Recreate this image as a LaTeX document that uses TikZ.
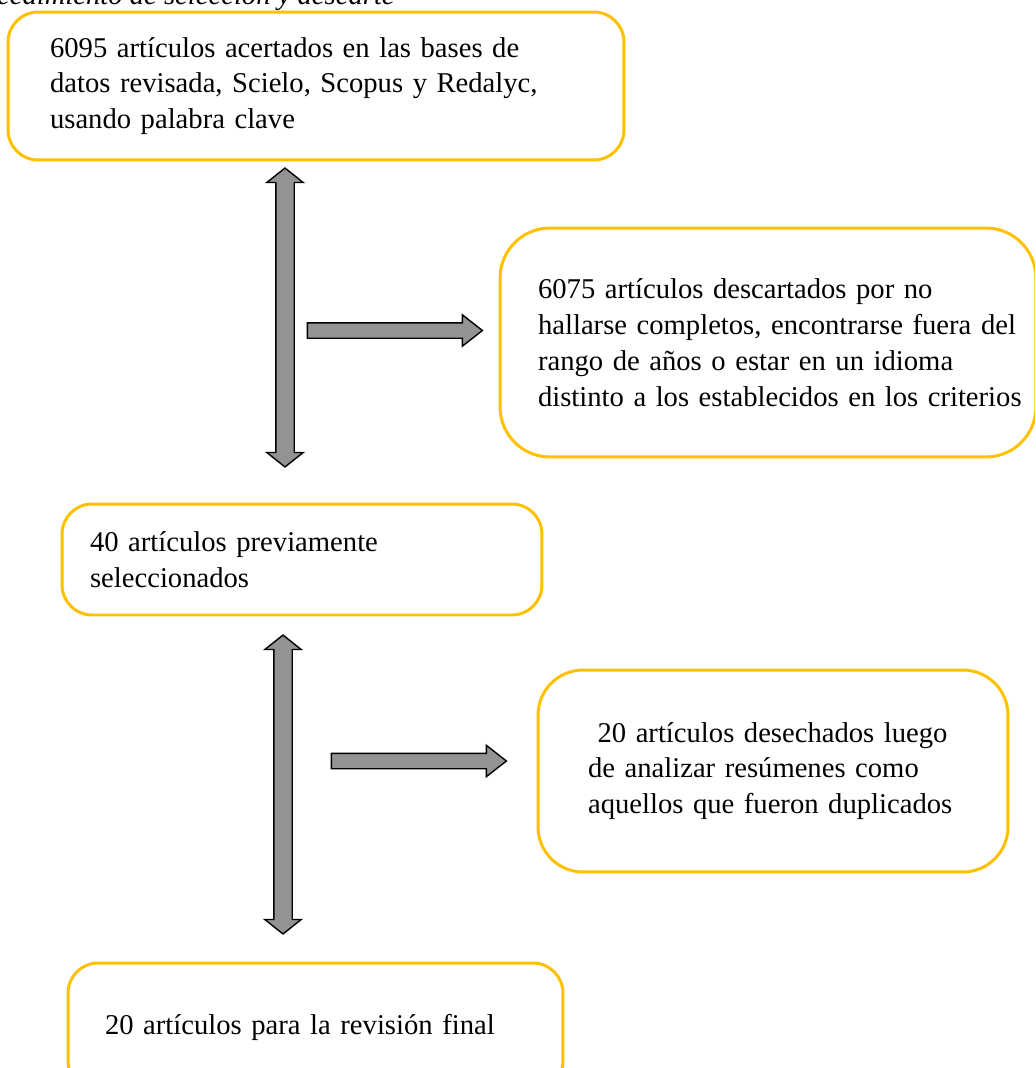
\documentclass[tikz,border=0pt]{standalone}
\usepackage{fontspec}
\setmainfont{Liberation Serif}
\usepackage{tikz}
\usetikzlibrary{positioning}
\usetikzlibrary{shapes.arrows}

\definecolor{dorado}{HTML}{FFC000}
\definecolor{grisflecha}{HTML}{939393}

\begin{document}
\begin{tikzpicture}[x=0.02cm,y=-0.02cm,
    caja/.style={draw=dorado, line width=1.7pt, rounded corners=0.6cm,
        align=left, inner xsep=0pt, inner ysep=0pt,
        font=\fontsize{16.3}{20.4}\selectfont},
    sangria/.style={execute at begin node={\leftskip=#1}},
    vflecha/.style={double arrow, draw=black, fill=grisflecha, line width=0.8pt,
        inner xsep=0pt, inner ysep=0.17cm, minimum width=0.7cm, minimum height=5.98cm,
        double arrow head extend=0.18cm, double arrow tip angle=103, rotate=90},
    hflecha/.style={single arrow, draw=black, fill=grisflecha, line width=0.8pt,
        inner xsep=0pt, inner ysep=0.14cm, minimum width=0.6cm, minimum height=3.5cm,
        single arrow head extend=0.16cm, single arrow tip angle=76}]
  \useasboundingbox (0,0) rectangle (1035,1068);
  \clip (0,0) rectangle (1035,1068);

  % titulo (cortado arriba)
  \node[anchor=base east, inner sep=0pt, font=\fontsize{16.3}{20.4}\selectfont\itshape] (titulo) at (395,5) {Procedimiento de selección y descarte};

  % cajas
  \node[caja, sangria=0.84cm, text width=12.32cm, minimum height=2.96cm] (datos) at (316,86)
    {6095 artículos acertados en las bases de\\datos revisada, Scielo, Scopus y Redalyc,\\usando palabra clave};
  \node[caja, sangria=0.76cm, rounded corners=1cm, text width=10.72cm, minimum height=4.58cm] (descarte1) at (768,342.5)
    {6075 artículos descartados por no\\hallarse completos, encontrarse fuera del\\rango de años o estar en un idioma\\distinto a los establecidos en los criterios};
  \node[caja, sangria=0.56cm, text width=9.6cm, minimum height=2.22cm] (previos) at (302,559.5)
    {40 artículos previamente\\seleccionados};
  \node[caja, sangria=1cm, rounded corners=0.9cm, text width=9.4cm, minimum height=4.04cm] (descarte2) at (773,771)
    {~20 artículos desechados luego\\de analizar resúmenes como\\aquellos que fueron duplicados};
  \node[caja, sangria=0.74cm, text width=9.9cm, minimum height=2.56cm] (final) at (315.5,1027)
    {20 artículos para la revisión final};

  % flechas
  \node[vflecha] (flechaA) at (285,317.5) {};
  \node[hflecha] (salidaA) at (390,330.5) {};
  \node[vflecha] (flechaB) at (283,784.5) {};
  \node[hflecha] (salidaB) at (414,761) {};
\end{tikzpicture}
\end{document}
